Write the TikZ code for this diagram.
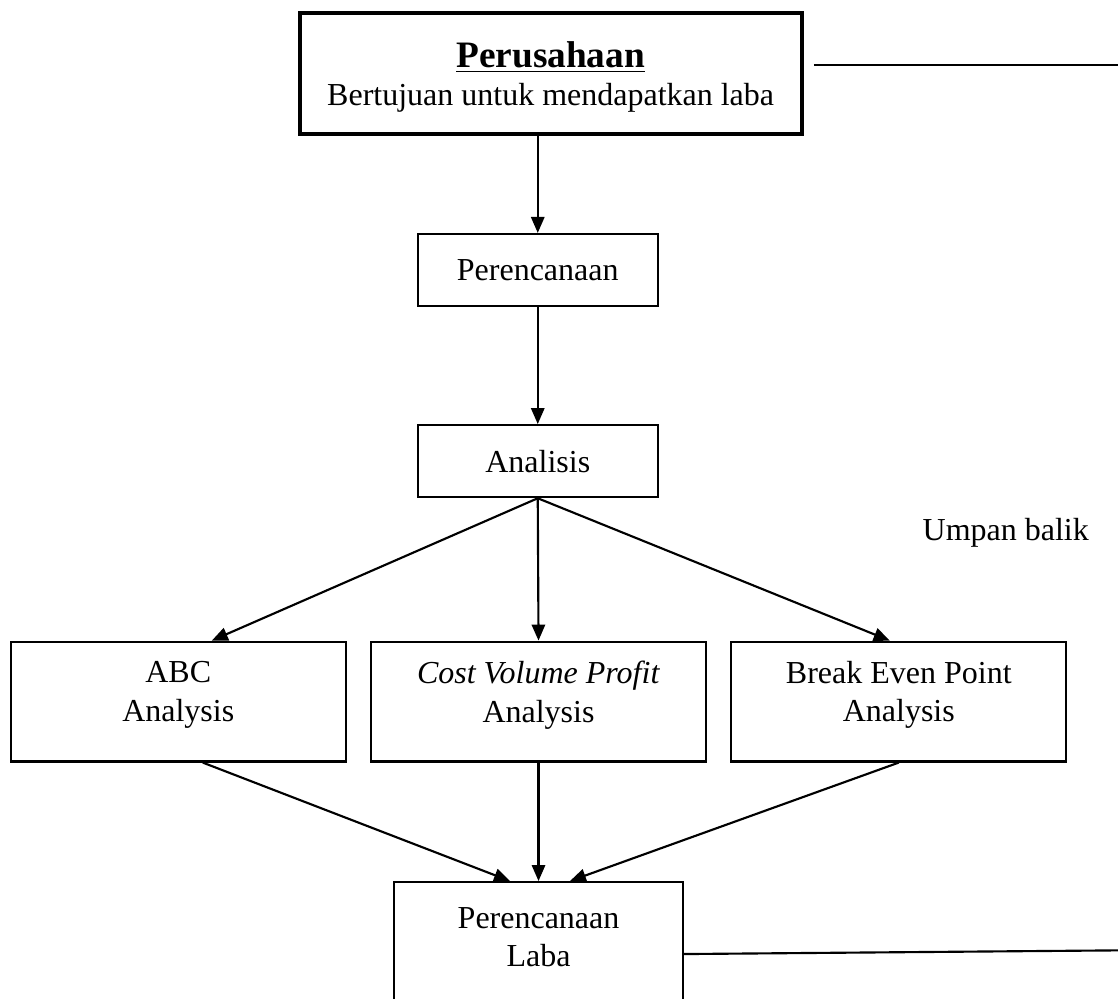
\documentclass[12pt,tikz,border=0pt]{standalone}
\usepackage{fontspec}
\setmainfont{Liberation Serif}
\usetikzlibrary{arrows.meta}

\begin{document}
\begin{tikzpicture}[auto, line width=0.8pt,
    box/.style={draw, minimum width=3.16cm, minimum height=0.95cm, inner sep=0pt},
    anbox/.style={draw, minimum width=4.42cm, minimum height=1.58cm, align=center, inner sep=0pt, text depth=7.6pt},
    arr/.style={-{Triangle[length=6pt, width=5pt]}}]
    \path[use as bounding box, clip] (0,0) rectangle (14.74,-13.17);

    \node[draw, line width=1.5pt, minimum width=6.62cm, minimum height=1.59cm, align=center, inner sep=0pt, text depth=0pt] at (7.26, -0.97) (top) {{\fontsize{14}{17}\selectfont\bfseries\underline{Perusahaan}}\\Bertujuan untuk mendapatkan laba};
    \node[box] at (7.09, -3.56) (plan) {Perencanaan};
    \node[box] at (7.09, -6.08) (anal) {Analisis};

    \node[anbox] at (2.35, -9.25) (abc) {ABC\\Analysis};
    \node[anbox] at (7.10, -9.25) (cvp) {\textit{Cost Volume Profit}\\Analysis};
    \node[anbox] at (11.85, -9.25) (bep) {Break Even Point\\Analysis};

    \node[draw, minimum width=3.81cm, minimum height=2.08cm, align=center, inner sep=0pt, text depth=18pt] at (7.10, -12.67) (laba) {Perencanaan\\Laba};
    \node at (13.26, -7.03) (umpan) {Umpan balik};

    % feedback lines
    \coordinate (fbA) at (10.73, -0.86);
    \coordinate (fbB) at (14.74, -0.86);
    \coordinate (fbC) at (14.74, -12.53);
    \draw (fbA) -- (fbB);
    \draw ([yshift=2.6pt]laba.east) -- (fbC);

    \draw[arr] (top.south -| plan.north) -- (plan);
    \draw[arr] (plan) -- (anal);
    \draw[arr] (anal.south) -- ([xshift=12.6pt]abc.north);
    \draw[arr] (anal.south) -- (cvp.north);
    \draw[arr] (anal.south) -- ([xshift=-3.4pt]bep.north);

    \draw[arr] ([xshift=9.2pt]abc.south) -- ([xshift=-10.7pt]laba.north);
    \draw[arr] (cvp.south) -- (laba.north);
    \draw[arr] (bep.south) -- ([xshift=11.8pt]laba.north);
\end{tikzpicture}
\end{document}
